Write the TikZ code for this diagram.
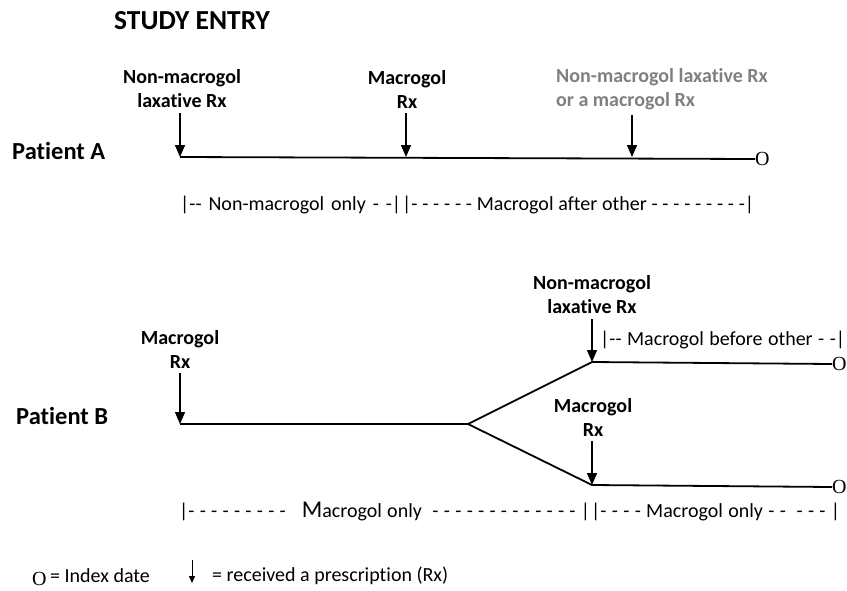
\documentclass[tikz,border=0pt]{standalone}
\usepackage{fontspec}
\setmainfont{Carlito}[Ligatures=NoCommon]
\newfontfamily\idxfont{Liberation Serif}
\usetikzlibrary{arrows.meta}

\tikzset{
  event/.style={font=\fontsize{20}{24}\selectfont\bfseries, align=center, inner sep=1pt},
  patient/.style={font=\fontsize{24.5}{26}\selectfont\bfseries, anchor=west, inner sep=0pt},
  period/.style={font=\fontsize{20}{22}\selectfont, anchor=west, inner sep=0pt},
  timeline/.style={line width=1.8pt},
  rx/.style={-{Triangle[width=10pt,length=12pt]}, line width=1.4pt, shorten <=4pt},
  indexdate/.style={font=\idxfont\fontsize{20}{20}\selectfont, anchor=west, inner sep=0pt},
}

\begin{document}
\begin{tikzpicture}[x=1pt,y=-1pt]
        \useasboundingbox (0,0) rectangle (847,590);
        \node[font=\fontsize{27.5}{29}\selectfont\bfseries, anchor=west, inner sep=0pt] (entry) at (114,21) {STUDY ENTRY};

        % patient A
        \node[patient] (patA) at (12,151) {Patient A};
        \coordinate (a0) at (180,157);
        \coordinate (a1) at (406,157);
        \coordinate (a2) at (632,157);
        \node[indexdate] (endA) at (755,159) {O};
        \draw[timeline] (a0) -- (endA.west);
        \node[event] (rxA0) at (182,89) {Non-macrogol\\laxative Rx};
        \node[event] (rxA1) at (407,89) {Macrogol\\Rx};
        \node[event, gray, align=left, anchor=west] (rxA2) at (555,89) {Non-macrogol laxative Rx\\or a macrogol Rx};
        \draw[rx] (rxA0.south -| a0) -- (a0);
        \draw[rx] (rxA1.south -| a1) -- (a1);
        \draw[rx] (rxA2.south -| a2) -- (a2);
        \node[period] (perA0) at (180,205) {\makebox[221pt][s]{|-{}- Non-macrogol only - -|}};
        \node[period] (perA1) at (402,205) {\makebox[352pt][s]{|- - - - - - Macrogol after other - - - - - - - - -|}};

        % patient B
        \node[patient] (patB) at (16,416) {Patient B};
        \coordinate (b0) at (180,424);
        \coordinate (bFork) at (468,424);
        \coordinate (bUp) at (592,362);
        \coordinate (bDown) at (592,485);
        \node[indexdate] (endB1) at (832,364) {O};
        \node[indexdate] (endB2) at (832,487) {O};
        \draw[timeline] (b0) -- (bFork) -- (bUp) -- (endB1.west);
        \draw[timeline] (bFork) -- (bDown) -- (endB2.west);
        \node[event] (rxB0) at (180,349) {Macrogol\\Rx};
        \node[event] (rxB1) at (592,295) {Non-macrogol\\laxative Rx};
        \node[event] (rxB2) at (593,417) {Macrogol\\Rx};
        \draw[rx] (rxB0.south -| b0) -- (b0);
        \draw[rx] (rxB1.south -| bUp) -- (bUp);
        \draw[rx] (rxB2.south -| bDown) -- (bDown);
        \node[period] (perB1) at (600,340) {\makebox[245pt][s]{|-{}- Macrogol before other - -|}};
        \node[period] (perB0) at (179,512) {\makebox[411pt][s]{|- - - - - - - - - \ \ {\fontsize{24}{24}\selectfont M}acrogol only \ - - - - - - - - - - - - - |}};
        \node[period] (perB2) at (591,512) {\makebox[249pt][s]{|- - - - Macrogol only - - \ - - - |}};

        % legend
        \node[indexdate] (keyO) at (32,579) {O};
        \node[period] (keyOtxt) at (50,576) {= Index date};
        \coordinate (keyTop) at (192,560);
        \coordinate (keyTip) at (192,583);
        \draw[-{Triangle[width=6pt,length=7pt]}, line width=1pt] (keyTop) -- (keyTip);
        \node[period] (keyRx) at (212,576) {= received a prescription (Rx)};
\end{tikzpicture}
\end{document}
